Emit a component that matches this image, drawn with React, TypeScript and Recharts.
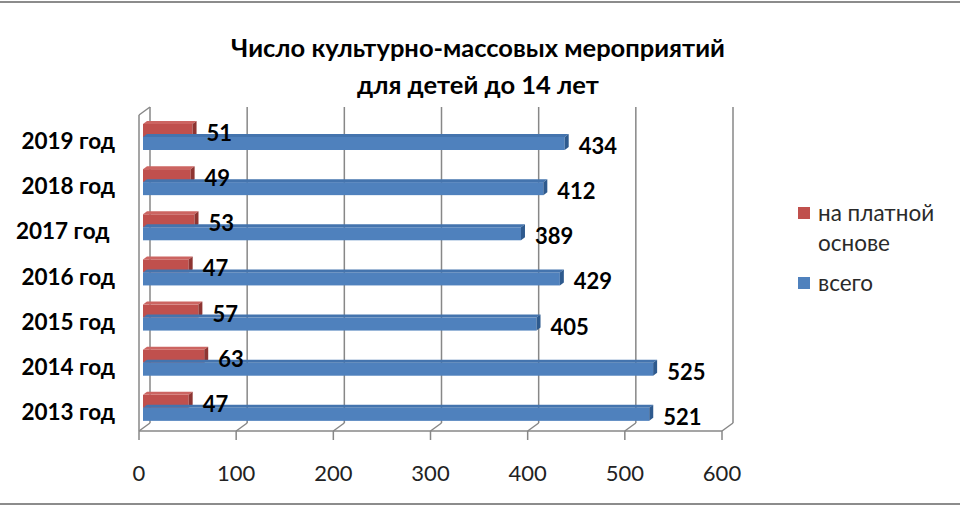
import React from 'react';
import { BarChart, Bar, XAxis, YAxis, CartesianGrid, LabelList, Legend } from 'recharts';

const categories = ['2019 год', '2018 год', '2017 год ', '2016 год', '2015 год', '2014 год', '2013 год'];
const paidValues = [51, 49, 53, 47, 57, 63, 47];
const totalValues = [434, 412, 389, 429, 405, 525, 521];
const xTicks = [0, 100, 200, 300, 400, 500, 600];
const seriesNames = ['на платной основе', 'всего'];
const titleLines = ['Число культурно-массовых мероприятий', 'для детей до 14 лет'];

const data = categories.map((c, i) => ({ category: c, paid: paidValues[i], total: totalValues[i] }));

const FONT = 'Lato, "Open Sans", sans-serif';
const GRID = '#878787';
// 3D geometry (style constants)
const WALL_DX = 11;
const WALL_DY = 8;
const BAR_SX = 4;
const BAR_SY = -1;
const BAR_DX = 4;
const BAR_DY = 3;

const COLORS = {
  paid: { front: '#C0504D', top: '#CC6461', side: '#8E3532' },
  total: { front: '#4F81BD', top: '#4474AE', side: '#2E5A8E' },
};

const make3DBar = (c: { front: string; top: string; side: string }) => (props: any) => {
  const { x, y, width, height } = props;
  if (width == null || height == null) return <g />;
  const fx = x + BAR_SX;
  const fy = y + BAR_SY;
  const w = Math.max(width, 0);
  const topPts = `${fx},${fy} ${fx + BAR_DX},${fy - BAR_DY} ${fx + w + BAR_DX},${fy - BAR_DY} ${fx + w},${fy}`;
  const sidePts = `${fx + w},${fy} ${fx + w + BAR_DX},${fy - BAR_DY} ${fx + w + BAR_DX},${fy + height - BAR_DY} ${fx + w},${fy + height}`;
  return (
    <g>
      <rect x={fx} y={fy} width={w} height={height} fill={c.front} />
      <polygon points={topPts} fill={c.top} />
      <polygon points={sidePts} fill={c.side} />
    </g>
  );
};

const renderValueLabel = (props: any) => {
  const { x, y, width, height, value } = props;
  return (
    <text
      x={x + width + BAR_SX + BAR_DX + 10}
      y={y + height / 2 + BAR_SY + 2}
      dominantBaseline="central"
      textAnchor="start"
      fontFamily={FONT}
      fontWeight={700}
      fontSize={22}
      fill="#000"
    >
      {value}
    </text>
  );
};

const renderGridLine = (p: any) => {
  const { x1, y1, y2, index } = p;
  const bx = x1 + WALL_DX;
  return (
    <g key={`grid-${index}`}>
      <line x1={bx} y1={y1 - WALL_DY} x2={bx} y2={y2 - WALL_DY} stroke={GRID} strokeWidth={1.5} />
      <line x1={bx} y1={y2 - WALL_DY} x2={x1} y2={y2} stroke={GRID} strokeWidth={1.5} />
      {index === 0 && (
        <>
          <line x1={x1} y1={y1} x2={x1} y2={y2} stroke={GRID} strokeWidth={1.5} />
          <line x1={x1} y1={y1} x2={bx} y2={y1 - WALL_DY} stroke={GRID} strokeWidth={1.5} />
        </>
      )}
    </g>
  );
};

const renderYTick = (props: any) => {
  const { x, y, payload } = props;
  return (
    <text
      x={x}
      y={y + 3}
      textAnchor="end"
      dominantBaseline="central"
      fontFamily={FONT}
      fontWeight={700}
      fontSize={22.5}
      fill="#000"
      style={{ whiteSpace: 'pre' }}
    >
      {payload.value}
    </text>
  );
};

const renderLegend = () => {
  const items = [
    { name: seriesNames[0], color: COLORS.paid.front },
    { name: seriesNames[1], color: COLORS.total.front },
  ];
  return (
    <div style={{ fontFamily: FONT, fontSize: 22.5, color: '#2a2a2a' }}>
      {items.map((it, i) => (
        <div key={i} style={{ display: 'flex', alignItems: 'flex-start', marginBottom: 10 }}>
          <span
            style={{ display: 'inline-block', width: 12, height: 12, background: it.color, marginTop: 9, marginRight: 8, flex: 'none' }}
          />
          <span style={{ width: 140, lineHeight: '30px' }}>{it.name}</span>
        </div>
      ))}
    </div>
  );
};

export default function App() {
  return (
    <div style={{ position: 'absolute', left: 0, top: 0, width: 960, height: 510, background: '#fff' }}>
      <div
        style={{
          position: 'absolute',
          left: 0,
          top: 0,
          width: 960,
          height: 504,
          borderTop: '2px solid #8c8c8c',
          borderBottom: '2px solid #8c8c8c',
          boxSizing: 'border-box',
          marginTop: 1,
        }}
      />
      <div
        style={{
          position: 'absolute',
          left: 0,
          top: 29,
          width: 956,
          textAlign: 'center',
          fontFamily: FONT,
          fontWeight: 700,
          fontSize: 25.5,
          lineHeight: '37px',
          color: '#000',
        }}
      >
        {titleLines.map((t, i) => (
          <div key={i}>{t}</div>
        ))}
      </div>
      <BarChart
        width={960}
        height={510}
        data={data}
        layout="vertical"
        margin={{ top: 115, right: 238, bottom: 0, left: 0 }}
        barGap={0}
        barSize={13}
        style={{ position: 'absolute', left: 0, top: 0 }}
      >
        <CartesianGrid horizontal={false} vertical={renderGridLine} />
        <XAxis
          type="number"
          domain={[0, 600]}
          ticks={xTicks}
          height={79}
          axisLine={{ stroke: GRID, strokeWidth: 1.5 }}
          tickLine={{ stroke: GRID, strokeWidth: 1.5 }}
          tickSize={9}
          tickMargin={25}
          tick={{ fontFamily: FONT, fontSize: 22, fill: '#222' }}
          interval={0}
        />
        <YAxis
          type="category"
          dataKey="category"
          width={139}
          axisLine={false}
          tickLine={false}
          tickSize={0}
          tickMargin={24}
          tick={renderYTick}
          interval={0}
        />
        <Legend
          layout="vertical"
          align="center"
          verticalAlign="middle"
          content={renderLegend}
          wrapperStyle={{ left: 798, top: 198, width: 160 }}
        />
        <Bar dataKey="paid" name={seriesNames[0]} fill={COLORS.paid.front} shape={make3DBar(COLORS.paid)} isAnimationActive={false}>
          <LabelList dataKey="paid" content={renderValueLabel} />
        </Bar>
        <Bar dataKey="total" name={seriesNames[1]} fill={COLORS.total.front} shape={make3DBar(COLORS.total)} isAnimationActive={false}>
          <LabelList dataKey="total" content={renderValueLabel} />
        </Bar>
      </BarChart>
    </div>
  );
}
